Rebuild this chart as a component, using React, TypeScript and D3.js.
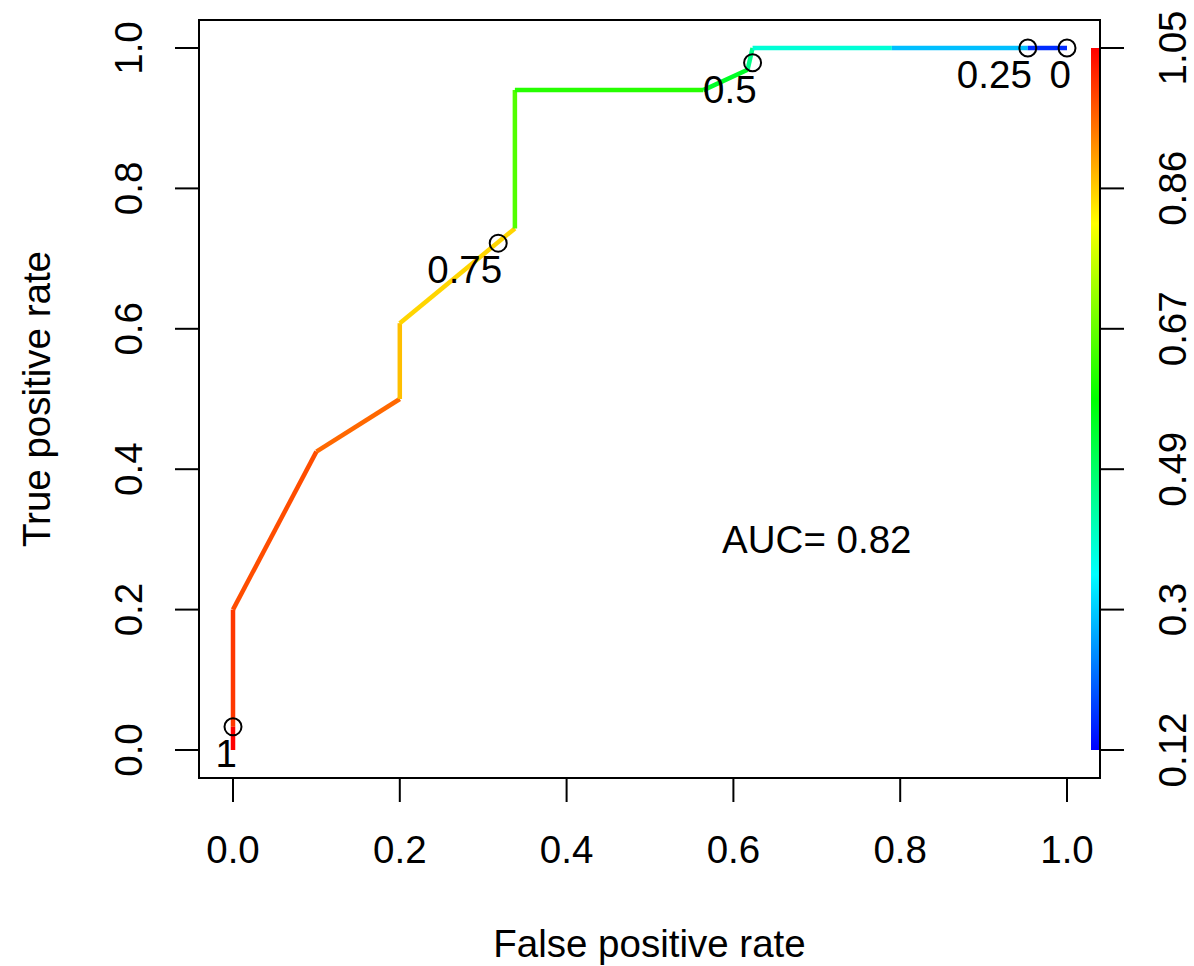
import React from "react";
import * as d3 from "d3";

// ROC curve vertices (false positive rate, true positive rate) and the cutoff at each vertex
const fprValues = [0, 0, 0, 0.1, 0.2, 0.2, 0.338, 0.338, 0.564, 0.617, 0.623, 0.79, 0.953, 1.0];
const tprValues = [0, 0.033, 0.2, 0.425, 0.5, 0.608, 0.743, 0.94, 0.94, 0.969, 1.0, 1.0, 1.0, 1.0];
const cutoffValues = [1.05, 1.0, 0.98, 0.955, 0.876, 0.856, 0.66, 0.62, 0.55, 0.46, 0.39, 0.294, 0.16, 0.12];

// printed cutoff markers
const markerLabels = ["1", "0.75", "0.5", "0.25", "0"];
const markerFpr = [0, 0.318, 0.623, 0.953, 1.0];
const markerTpr = [0.033, 0.722, 0.979, 1.0, 1.0];

const axisTicks = [0, 0.2, 0.4, 0.6, 0.8, 1.0];
const axisTickLabels = ["0.0", "0.2", "0.4", "0.6", "0.8", "1.0"];
const colorbarTickLabels = ["0.12", "0.3", "0.49", "0.67", "0.86", "1.05"];
const cutoffRange = [0.12, 1.05];

const aucText = "AUC= 0.82";
const aucPos = [0.7, 0.3];

const W = 1194;
const H = 966;
const FONT = "'Liberation Sans', Arial, Helvetica, sans-serif";
const FS = 38.5;

export default function App() {
  const x = d3.scaleLinear().domain([0, 1]).range([233, 1067]);
  const y = d3.scaleLinear().domain([0, 1]).range([750, 48]);
  const hue = d3.scaleLinear().domain([cutoffRange[1], cutoffRange[0]]).range([0, 240]);
  const colorOf = (c: number) => d3.hsl(hue(c), 1, 0.5).formatHex();
  const cutY = d3.scaleLinear().domain(cutoffRange).range([750, 48]);

  const frame = { x0: 199, y0: 20, x1: 1100, y1: 778 };
  const line = d3.line<[number, number]>().x((d) => x(d[0])).y((d) => y(d[1]));

  const segments = fprValues.slice(0, -1).map((f, i) => ({
    d: line([
      [f, tprValues[i]],
      [fprValues[i + 1], tprValues[i + 1]],
    ]) as string,
    color: colorOf(cutoffValues[i]),
  }));

  const stops = d3.range(0, 101).map((k) => {
    const c = cutoffRange[0] + (k / 100) * (cutoffRange[1] - cutoffRange[0]);
    return { offset: `${100 - k}%`, color: colorOf(c) };
  });

  return (
    <svg
      width={W}
      height={H}
      style={{ position: "absolute", left: 0, top: 0, background: "#fff" }}
      fontFamily={FONT}
    >
      <defs>
        <linearGradient id="cbar" x1="0" y1="0" x2="0" y2="1">
          {stops
            .slice()
            .reverse()
            .map((s, i) => (
              <stop key={i} offset={s.offset} stopColor={s.color} />
            ))}
        </linearGradient>
      </defs>
      <rect width={W} height={H} fill="#fff" />

      {/* colorbar */}
      <rect
        x={1091}
        y={cutY(cutoffRange[1])}
        width={frame.x1 - 1091}
        height={cutY(cutoffRange[0]) - cutY(cutoffRange[1])}
        fill="url(#cbar)"
      />

      {/* curve */}
      {segments.map((s, i) => (
        <path key={i} d={s.d} stroke={s.color} strokeWidth={4.5} fill="none" strokeLinecap="butt" strokeLinejoin="round" />
      ))}

      {/* cutoff markers */}
      {markerLabels.map((lab, i) => (
        <g key={i}>
          <circle cx={x(markerFpr[i])} cy={y(markerTpr[i])} r={8.5} fill="none" stroke="#000" strokeWidth={2} />
          <text x={x(markerFpr[i]) + 4} y={y(markerTpr[i]) + 40} textAnchor="end" fontSize={FS} fill="#000">
            {lab}
          </text>
        </g>
      ))}

      {/* AUC */}
      <text x={x(aucPos[0])} y={y(aucPos[1]) + 14} textAnchor="middle" fontSize={FS} fill="#000">
        {aucText}
      </text>

      {/* frame */}
      <rect
        x={frame.x0}
        y={frame.y0}
        width={frame.x1 - frame.x0}
        height={frame.y1 - frame.y0}
        fill="none"
        stroke="#000"
        strokeWidth={2}
      />

      {/* bottom axis */}
      {axisTicks.map((t, i) => (
        <g key={"b" + i}>
          <line x1={x(t)} x2={x(t)} y1={frame.y1} y2={frame.y1 + 24} stroke="#000" strokeWidth={2} />
          <text x={x(t)} y={863} textAnchor="middle" fontSize={FS}>
            {axisTickLabels[i]}
          </text>
        </g>
      ))}

      {/* left axis */}
      {axisTicks.map((t, i) => (
        <g key={"l" + i}>
          <line x1={frame.x0 - 24} x2={frame.x0} y1={y(t)} y2={y(t)} stroke="#000" strokeWidth={2} />
          <text transform={`translate(142,${y(t)}) rotate(-90)`} textAnchor="middle" fontSize={FS}>
            {axisTickLabels[i]}
          </text>
        </g>
      ))}

      {/* right colorbar axis */}
      {axisTicks.map((t, i) => (
        <g key={"r" + i}>
          <line x1={frame.x1} x2={frame.x1 + 24} y1={y(t)} y2={y(t)} stroke="#000" strokeWidth={2} />
          <text transform={`translate(1186,${y(t)}) rotate(-90)`} textAnchor="middle" fontSize={FS}>
            {colorbarTickLabels[i]}
          </text>
        </g>
      ))}

      {/* axis titles */}
      <text x={(frame.x0 + frame.x1) / 2} y={957} textAnchor="middle" fontSize={FS}>
        False positive rate
      </text>
      <text transform={`translate(50,${(y(0) + y(1)) / 2}) rotate(-90)`} textAnchor="middle" fontSize={FS}>
        True positive rate
      </text>
    </svg>
  );
}
